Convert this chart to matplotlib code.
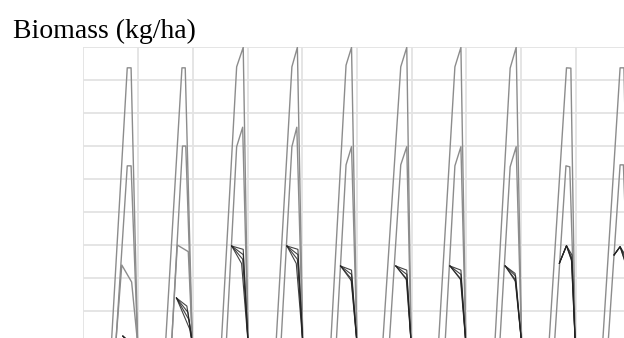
import numpy as np
import matplotlib
matplotlib.use('Agg')
import matplotlib.pyplot as plt

# years on the x axis, one growing season per year
years = np.arange(1, 11)

# upper envelope (light grey line): start of growth, knee, peak, end of season
upper_start = [0.51, 1.50, 2.52, 3.52, 4.52, 5.47, 6.49, 7.52, 8.51, 9.49]
upper_knee_x = [0.80, 1.80, 2.80, 3.81, 4.80, 5.80, 6.79, 7.80, 8.83, 9.81]
upper_knee_y = [8360, 8360, 8390, 8390, 8440, 8390, 8390, 8350, 8360, 8360]
upper_peak_x = [0.87, 1.86, 2.92, 3.91, 4.90, 5.91, 6.90, 7.91, 8.91, 9.88]
upper_peak_y = [8360, 8360, 8980, 8980, 8980, 8980, 8980, 8980, 8350, 8360]

# lower envelope
lower_start = [0.59, 1.61, 2.61, 3.61, 4.62, 5.59, 6.61, 7.61, 8.61, 9.59]
lower_knee_x = [0.80, 1.81, 2.80, 3.81, 4.80, 5.80, 6.79, 7.80, 8.82, 9.81]
lower_knee_y = [5390, 5990, 5970, 5970, 5420, 5420, 5390, 5360, 5390, 5420]
lower_peak_x = [0.87, 1.87, 2.91, 3.90, 4.90, 5.91, 6.90, 7.91, 8.89, 9.87]
lower_peak_y = [5390, 5990, 6560, 6560, 5970, 5970, 5970, 5970, 5360, 5420]

# end of each season (harvest)
season_end = [0.99, 1.99, 3.01, 4.01, 5.00, 5.99, 6.99, 8.01, 8.99, 9.99]

# single middle line in the first two years
mid_x = [[0.70, 0.88], [1.715, 1.916]]
mid_y = [[2385, 1870], [2990, 2790]]

# dark cluster of runs, they leave the lower envelope at the branch point
cluster_branch_x = [0.72, 1.70, 2.71, 3.72, 4.70, 5.71, 6.70, 7.71, 8.70, 9.70]
cluster_branch_y = [230, 1385, 2960, 2960, 2355, 2355, 2355, 2355, 2440, 2690]
cluster_top_x = [0.72, 1.70, 2.71, 3.72, 4.70, 5.71, 6.70, 7.71, 8.83, 9.81]
cluster_top_y = [230, 1385, 2960, 2960, 2355, 2355, 2355, 2355, 2970, 2940]
cluster_elbow_x = [
    [0.78, 0.80, 0.82, 0.84],
    [1.89, 1.91, 1.93, 1.94],
    [2.92, 2.92, 2.91, 2.89],
    [3.92, 3.92, 3.91, 3.89],
    [4.90, 4.90, 4.89, 4.90],
    [5.91, 5.91, 5.90, 5.91],
    [6.90, 6.90, 6.89, 6.90],
    [7.89, 7.90, 7.89, 7.90],
    [8.93, 8.92, 8.92, 8.93],
    [9.90, 9.90, 9.89, 9.90],
]
cluster_elbow_y = [
    [150, 100, 60, 30],
    [1140, 950, 720, 450],
    [2860, 2700, 2560, 2430],
    [2860, 2700, 2560, 2430],
    [2230, 2100, 1980, 1900],
    [2230, 2100, 1980, 1930],
    [2230, 2100, 1980, 1930],
    [2130, 2050, 1950, 1880],
    [2690, 2620, 2550, 2480],
    [2700, 2620, 2550, 2480],
]

fig = plt.figure(figsize=(6.24, 3.38), dpi=100)
# the plot area runs past the right and bottom edge of the picture
ax = fig.add_axes([0.1338, -0.0169, 0.8766, 0.8787])

grey = '#8c8c8c'
dark = '#222222'

for i in range(len(years)):
    # upper and lower envelopes
    ax.plot([upper_start[i], upper_knee_x[i], upper_peak_x[i], season_end[i]],
            [0, upper_knee_y[i], upper_peak_y[i], 0], color=grey, lw=1.0)
    ax.plot([lower_start[i], lower_knee_x[i], lower_peak_x[i], season_end[i]],
            [0, lower_knee_y[i], lower_peak_y[i], 0], color=grey, lw=1.0)

for i in range(len(mid_x)):
    ax.plot([lower_start[i]] + mid_x[i] + [season_end[i]],
            [0] + mid_y[i] + [0], color=grey, lw=1.0)

# the rising part of the cluster lies on the lower envelope, draw from the branch on
for i in range(len(years)):
    for ex, ey in zip(cluster_elbow_x[i], cluster_elbow_y[i]):
        ax.plot([cluster_branch_x[i], cluster_top_x[i], ex, season_end[i]],
                [cluster_branch_y[i], cluster_top_y[i], ey, 0], color=dark, lw=0.8, alpha=0.85)

ax.set_xlim(0, 10)
ax.set_ylim(0, 9000)
ax.set_xticks(np.arange(0, 11))
ax.set_yticks(np.arange(0, 9001, 1000))
ax.tick_params(length=0, labelbottom=False, labelleft=False)
ax.grid(True, color='#e3e3e3', lw=1.3)
ax.set_axisbelow(True)
for s in ax.spines.values():
    s.set_visible(False)

fig.text(13 / 624, 1 - 38 / 338, 'Biomass (kg/ha)', fontsize=20,
         family='Liberation Serif', va='baseline', ha='left')

fig.savefig('out.png', dpi=100)
